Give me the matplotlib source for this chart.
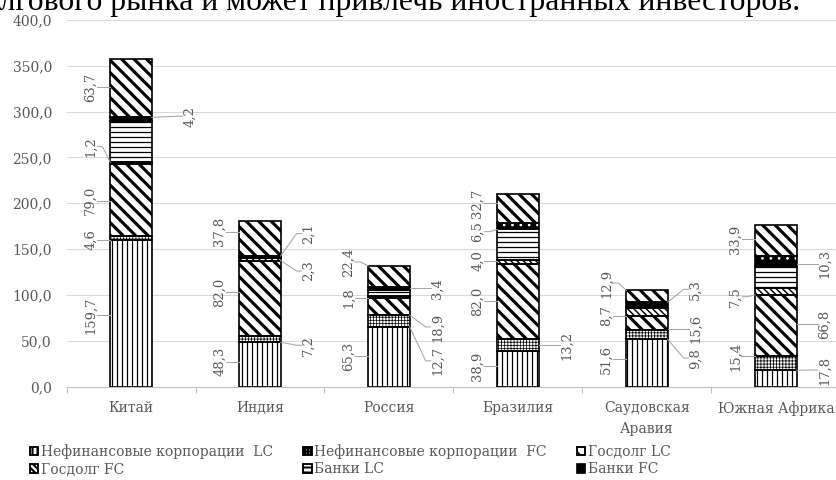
import matplotlib
matplotlib.use('Agg')
import matplotlib.pyplot as plt
import numpy as np
from matplotlib.patches import Patch
from matplotlib.ticker import FuncFormatter, FixedLocator

# Debt by sector, % of GDP
countries = ['Китай', 'Индия', 'Россия', 'Бразилия', 'Саудовская\nАравия', 'Южная Африка']
nonfin_lc = [159.7, 48.3, 65.3, 38.9, 51.6, 17.8]
nonfin_fc = [4.6, 7.2, 12.7, 13.2, 9.8, 15.4]
gov_lc = [79.0, 82.0, 18.9, 82.0, 15.6, 66.8]
gov_fc = [1.2, 2.3, 1.8, 4.0, 8.7, 7.5]
banks_lc = [45.0, 0.6, 7.0, 33.3, 1.0, 24.3]
banks_fc = [4.2, 2.1, 3.4, 6.5, 5.3, 10.3]
households = [63.7, 37.8, 22.4, 32.7, 12.9, 33.9]

series = [nonfin_lc, nonfin_fc, gov_lc, gov_fc, banks_lc, banks_fc, households]
legend_names = ['Нефинансовые корпорации  LC', 'Нефинансовые корпорации  FC', 'Госдолг LC',
                'Госдолг FC', 'Банки LC', 'Банки FC']
# which series get a value label (banks LC is left unlabeled)
labelled = [True, True, True, True, False, True, True]

# label placement: side of the bar and height of the label centre
label_side = [
    ['L', 'L', 'L', 'L', 'L', 'R'],
    ['L', 'R', 'R', 'R', 'R', 'L'],
    ['L', 'L', 'R', 'L', 'R', 'R'],
    ['L', 'R', 'L', 'L', 'L', 'L'],
    None,
    ['R', 'R', 'R', 'L', 'R', 'R'],
    ['L', 'L', 'L', 'L', 'L', 'L'],
]
label_y = [
    [78, 27, 33, 22, 30, 18],
    [160, 45, 28, 45, 31, 33],
    [203, 103, 65, 93, 63, 68],
    [262, 126, 97, 137, 77, 98],
    None,
    [295, 167, 107, 169, 106, 134],
    [327, 169, 136, 200, 113, 161],
]

# fill styles per series: face colour, hatch colour, hatch, hatch linewidth
styles = [
    ('white', 'black', '|||||', 0.6),
    ('white', 'black', '++++++++', 0.35),
    ('white', 'black', '\\\\\\\\', 1.5),
    ('white', 'black', '\\\\\\\\\\\\\\\\', 0.7),
    ('white', 'black', '-----', 0.6),
    ('black', 'white', '...', 0.5),
    ('white', 'black', '\\\\\\\\', 1.5),
]

GRAY_TXT = '#595959'
SERIF = 'DejaVu Serif'
DPI = 150

fig = plt.figure(figsize=(836 / DPI, 480 / DPI), dpi=DPI)
ax = fig.add_axes([66.5 / 836, 1 - 386.5 / 480, 6 * 129 / 836, 366.5 / 480])

x = np.arange(len(countries))
width = 0.32
px = 1 / 129.0  # one pixel in x data units

bottom = np.zeros(len(countries))
seg_lo, seg_hi = [], []
for vals, (face, hcol, hatch, hlw) in zip(series, styles):
    vals = np.array(vals)
    with plt.rc_context({'hatch.linewidth': hlw}):
        bars = ax.bar(x, vals, width, bottom=bottom, facecolor=face, edgecolor=hcol,
                      hatch=hatch, linewidth=0, zorder=2)
    for b in bars:
        if hasattr(b, 'set_hatch_linewidth'):
            b.set_hatch_linewidth(hlw)
    # black outline of each segment
    ax.bar(x, vals, width, bottom=bottom, fill=False, edgecolor='black',
           linewidth=0.8, zorder=3)
    seg_lo.append(bottom.copy())
    seg_hi.append(bottom + vals)
    bottom = bottom + vals

# value labels with leader lines
for s, vals in enumerate(series):
    if not labelled[s]:
        continue
    for i, v in enumerate(vals):
        side = label_side[s][i]
        ly = label_y[s][i]
        d = -1 if side == 'L' else 1
        edge = x[i] + d * width / 2
        gap = 20 * px if side == 'L' else 28 * px
        if i == 0 and side == 'R':
            gap = 38 * px
        lx = edge + d * gap
        ax.text(lx, ly, f'{v:.1f}'.replace('.', ','), rotation=90, ha='center', va='center',
                fontsize=6.3, color=GRAY_TXT, family=SERIF, zorder=4)
        ty = min(max(ly, seg_lo[s][i]), seg_hi[s][i])
        inner = lx - d * 7 * px
        ax.plot([inner, inner - d * 5 * px, edge], [ly, ly, ty], color='#a6a6a6',
                lw=0.5, zorder=4, clip_on=False)

ax.set_xlim(-0.5, len(countries) - 0.5)
ax.set_ylim(0, 400)
ax.yaxis.set_major_locator(FixedLocator(np.arange(0, 401, 50)))
ax.yaxis.set_major_formatter(FuncFormatter(lambda v, p: f'{v:.1f}'.replace('.', ',')))
ax.yaxis.grid(True, color='#d9d9d9', linewidth=0.5)
ax.set_axisbelow(True)
for side in ['top', 'right', 'left']:
    ax.spines[side].set_visible(False)
ax.spines['bottom'].set_color('#bfbfbf')
ax.spines['bottom'].set_linewidth(0.5)

ax.set_xticks(x)
ax.set_xticklabels(countries, linespacing=1.6)
ax.set_xticks(np.arange(-0.5, len(countries)), minor=True)
ax.tick_params(axis='x', which='major', length=0, pad=7, labelsize=6.7, labelcolor=GRAY_TXT)
ax.tick_params(axis='x', which='minor', length=3, width=0.5, color='#bfbfbf')
ax.tick_params(axis='y', length=0, pad=7, labelsize=6.7, labelcolor=GRAY_TXT)
for lab in ax.get_xticklabels() + ax.get_yticklabels():
    lab.set_family(SERIF)

# legend: proxies, reordered so that ncol=3 reads row by row
proxies = []
for (face, hcol, hatch, hlw), name in zip(styles[:6], legend_names):
    if face == 'black':
        p = Patch(facecolor='black', edgecolor='black', linewidth=0.8, label=name)
    else:
        p = Patch(facecolor='white', edgecolor='black', hatch=hatch, linewidth=0.9, label=name)
    proxies.append(p)
order = [0, 3, 1, 4, 2, 5]
leg = fig.legend([proxies[k] for k in order], [legend_names[k] for k in order],
                 ncol=3, loc='upper left', bbox_to_anchor=(30 / 836, 1 - 444 / 480),
                 frameon=False, borderpad=0, borderaxespad=0, handlelength=0.6,
                 handleheight=0.6, handletextpad=0.2, columnspacing=2.15, labelspacing=0.25,
                 prop={'family': SERIF, 'size': 6.7})
for t in leg.get_texts():
    t.set_color(GRAY_TXT)

# tail of the paragraph above the chart, cut by the top edge
fig.text(800 / 836, 1 - 10 / 480, 'долгового рынка и может привлечь иностранных инвесторов.',
         ha='right', va='baseline', fontsize=15.2, family='Liberation Serif', color='black')

fig.savefig('out.png', dpi=DPI)
